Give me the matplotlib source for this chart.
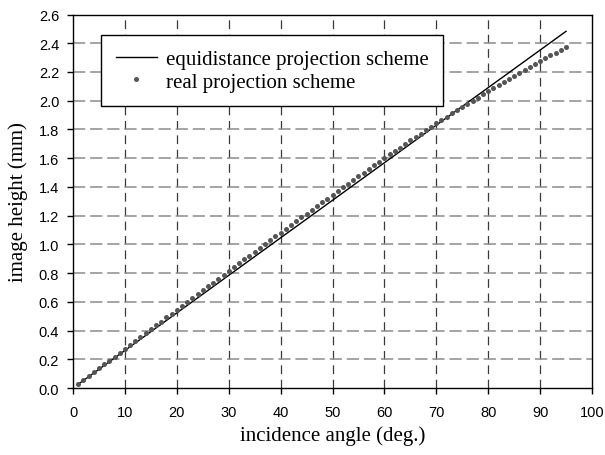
import numpy as np
import matplotlib
matplotlib.use("Agg")
import matplotlib.pyplot as plt

# ── Data ──────────────────────────────────────────────────────────────────────
# equidistance model: straight line through the first and last angle
equi_angle  = [1, 95]
equi_height = [0.026, 2.483]

# measured (real) projection, one point per degree
real_angle = list(range(1, 96))
real_height = [
    0.027, 0.054, 0.082, 0.110, 0.137, 0.164, 0.191, 0.219, 0.246, 0.273,
    0.301, 0.328, 0.355, 0.382, 0.409, 0.436, 0.463, 0.491, 0.518, 0.545,
    0.572, 0.599, 0.625, 0.652, 0.680, 0.707, 0.734, 0.760, 0.787, 0.814,
    0.841, 0.868, 0.895, 0.921, 0.948, 0.975, 1.001, 1.028, 1.055, 1.082,
    1.108, 1.135, 1.161, 1.187, 1.214, 1.240, 1.267, 1.293, 1.319, 1.345,
    1.371, 1.396, 1.422, 1.448, 1.474, 1.499, 1.524, 1.550, 1.575, 1.600,
    1.626, 1.650, 1.674, 1.698, 1.723, 1.747, 1.771, 1.796, 1.820, 1.844,
    1.867, 1.889, 1.911, 1.933, 1.956, 1.978, 2.000, 2.022, 2.044, 2.066,
    2.087, 2.109, 2.130, 2.151, 2.172, 2.193, 2.214, 2.235, 2.257, 2.278,
    2.297, 2.316, 2.334, 2.353, 2.371,
]

x_ticks = np.arange(0, 101, 10)
y_ticks = np.arange(0, 2.61, 0.2)

SERIF = "Liberation Serif"
SANS  = "Liberation Sans"

# ── Figure ────────────────────────────────────────────────────────────────────
fig = plt.figure(figsize=(6.05, 4.56), dpi=100)
ax = fig.add_axes([0.1207, 0.1469, 0.8578, 0.8191])

# grid: dark short dashes vertically, light long dashes horizontally
for xv in x_ticks[1:-1]:
    ax.axvline(xv, color="#3a3a3a", lw=0.9, ls=(0, (7, 4.5)), zorder=1)
for yv in y_ticks[1:-1]:
    ax.axhline(yv, color="#8c8c8c", lw=1.1, ls=(0, (8, 3.2)), zorder=1)

ax.plot(equi_angle, equi_height, color="black", lw=1.0, zorder=3,
        label="equidistance projection scheme")
ax.plot(real_angle, real_height, ls="none", marker="o", ms=3.6,
        color="#555555", mec="none", zorder=4,
        label="real projection scheme")

ax.set_xlim(0, 100)
ax.set_ylim(0, 2.6)
ax.set_xticks(x_ticks)
ax.set_yticks(y_ticks)
ax.set_xticklabels([f"{v:d}" for v in x_ticks], fontfamily=SANS, fontsize=10.5)
ax.set_yticklabels([f"{v:.1f}" for v in y_ticks], fontfamily=SANS, fontsize=10.5)
ax.tick_params(axis="x", direction="out", length=4, width=1, pad=8)
ax.tick_params(axis="y", direction="out", length=4, width=1, pad=6)

for s in ax.spines.values():
    s.set_linewidth(1.0)
    s.set_color("black")

ax.set_xlabel("incidence angle (deg.)", fontfamily=SERIF, fontsize=15, labelpad=5)
ax.set_ylabel("image height (mm)", fontfamily=SERIF, fontsize=15, labelpad=8)

leg = ax.legend(loc="upper left", bbox_to_anchor=(0.0545, 0.946),
                prop={"family": SERIF, "size": 15}, frameon=True,
                fancybox=False, edgecolor="black", framealpha=1,
                borderpad=0.7, labelspacing=0.15, handlelength=1.95,
                handletextpad=0.45, borderaxespad=0)
leg.get_frame().set_linewidth(1.0)

plt.savefig("out.png", dpi=100)
plt.close()
